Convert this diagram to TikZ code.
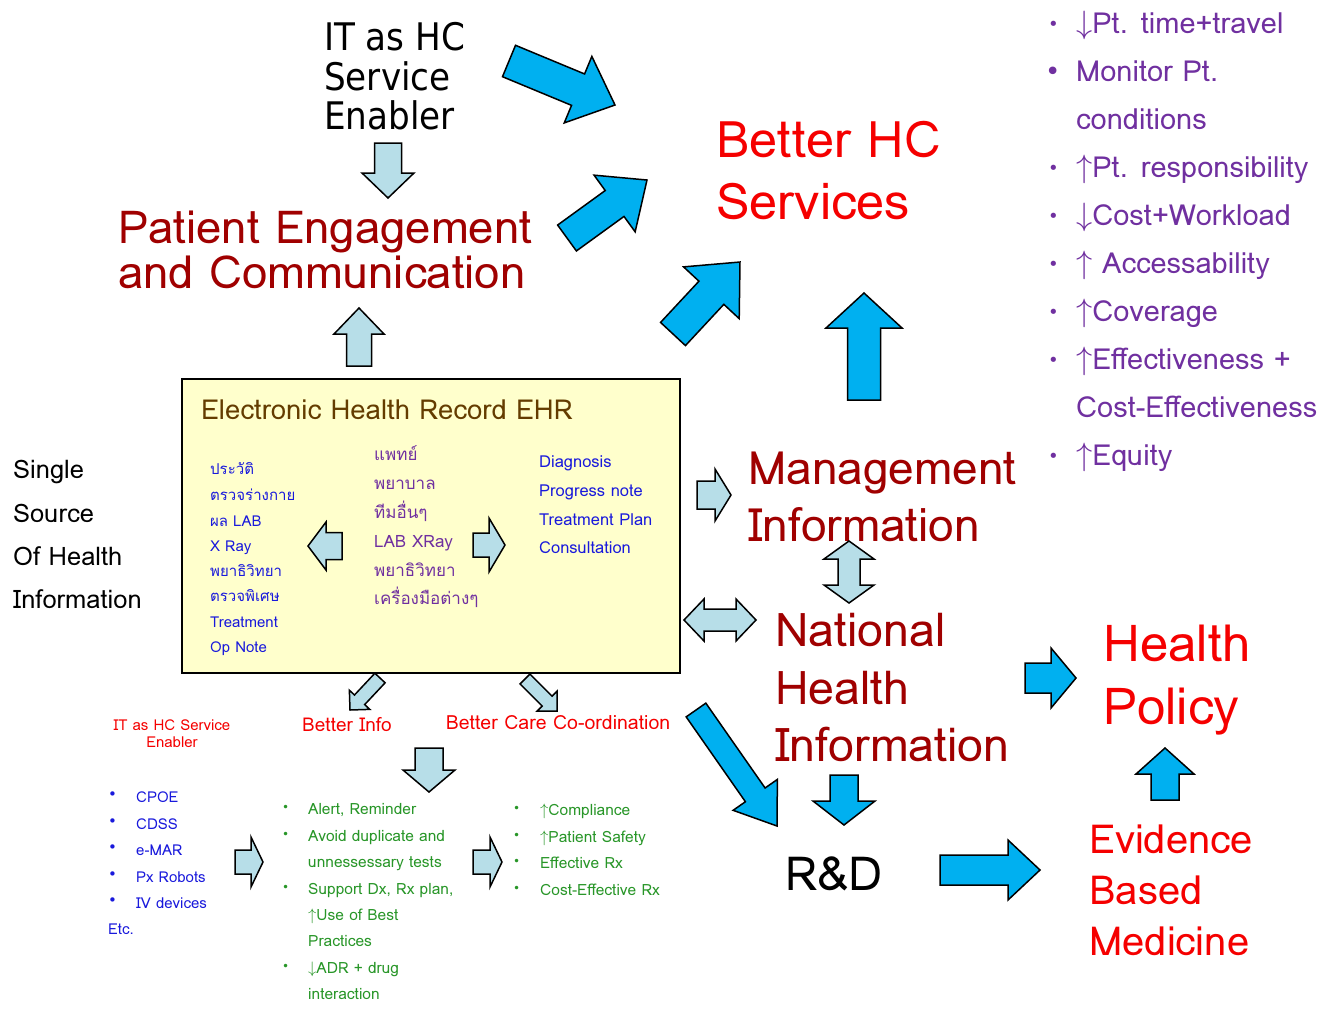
\documentclass[tikz,border=0pt]{standalone}
\usepackage{fontspec}
\setmainfont{Loma}
\newfontfamily\thai[Script=Thai]{Loma}
\newfontfamily\dv{DejaVu Sans}
\newfontfamily\dvc{DejaVu Sans Condensed}
\definecolor{dred}{RGB}{160,0,0}
\definecolor{bred}{RGB}{245,0,0}
\definecolor{purp}{RGB}{112,48,160}
\definecolor{eblue}{RGB}{25,25,220}
\definecolor{egreen}{RGB}{40,150,40}
\definecolor{brn}{RGB}{100,60,0}
\definecolor{lightA}{RGB}{183,222,232}
\definecolor{cyanA}{RGB}{0,176,240}
\definecolor{boxfill}{RGB}{255,255,204}
\newcommand\fs[1]{\fontsize{#1}{#1}\selectfont}
\newcommand\up[1]{\scalebox{#1}{$\uparrow$}}
\newcommand\dn[1]{\scalebox{#1}{$\downarrow$}}
\newcommand\barrow[8]{%
  \pgfmathsetmacro\baang{atan2((#3)-(#5),(#4)-(#2))}%
  \pgfmathsetmacro\balen{veclen((#4)-(#2),(#5)-(#3))}%
  \begin{scope}[shift={(#2,#3)},rotate=\baang]
    \draw[#1] (0,-#6/2) -- (\balen-#8,-#6/2) -- (\balen-#8,-#7/2) -- (\balen,0)
      -- (\balen-#8,#7/2) -- (\balen-#8,#6/2) -- (0,#6/2) -- cycle;
  \end{scope}}
\newcommand\dbarrow[8]{%
  \pgfmathsetmacro\baang{atan2((#3)-(#5),(#4)-(#2))}%
  \pgfmathsetmacro\balen{veclen((#4)-(#2),(#5)-(#3))}%
  \begin{scope}[shift={(#2,#3)},rotate=\baang]
    \draw[#1] (0,0) -- (#8,-#7/2) -- (#8,-#6/2) -- (\balen-#8,-#6/2) -- (\balen-#8,-#7/2) -- (\balen,0)
      -- (\balen-#8,#7/2) -- (\balen-#8,#6/2) -- (#8,#6/2) -- (#8,#7/2) -- cycle;
  \end{scope}}
\tikzset{
  barrowstyle/.style={draw=black, line width=1.5pt, fill=cyanA, line join=miter},
  larrowstyle/.style={draw=black, line width=1.5pt, fill=lightA, line join=miter},
  txt/.style={inner sep=0pt, anchor=base west},
}
\begin{document}
\begin{tikzpicture}[x=1pt,y=-1pt]
\useasboundingbox[fill=white] (0,0) rectangle (1327,1010);

% ---------- top left ----------
\node[txt,font=\dvc\fs{38}] (it1) at (324,50) {IT as HC};
\node[txt,font=\dvc\fs{38}] (it2) at (324,90) {Service};
\node[txt,font=\dvc\fs{38}] (it3) at (324,129) {Enabler};
\barrow{larrowstyle}{388}{143}{388}{198}{27}{52}{25}

\node[txt,font=\fs{45.5},text=dred] (pe1) at (118,243) {Patient Engagement};
\node[txt,font=\fs{45.5},text=dred] (pe2) at (118,288) {and Communication};
\barrow{larrowstyle}{359}{366}{359}{308}{25}{50}{26}

% ---------- blue arrows to Better HC ----------
\barrow{barrowstyle}{509}{61}{615}{105}{34}{72}{40}
\barrow{barrowstyle}{567}{238}{647}{180}{32}{70}{40}
\barrow{barrowstyle}{673}{334}{740}{262}{34}{76}{42}
\barrow{barrowstyle}{864}{400}{864}{293}{33}{76}{35}

\node[txt,font=\fs{50.5},text=bred] (bh1) at (716,157) {Better HC};
\node[txt,font=\fs{50.5},text=bred] (bh2) at (716,219) {Services};

% ---------- purple list ----------
\begin{scope}[font=\fs{29},text=purp]
\node[txt] (p1) at (1076,33) {\dn{1.3}Pt. time+travel};
\node[txt] (p2) at (1076,81) {Monitor Pt.};
\node[txt] (p3) at (1076,129) {conditions};
\node[txt] (p4) at (1076,177) {\up{1.3}Pt. responsibility};
\node[txt] (p5) at (1076,225) {\dn{1.3}Cost+Workload};
\node[txt] (p6) at (1076,273) {\up{1.3} Accessability};
\node[txt] (p7) at (1076,321) {\up{1.3}Coverage};
\node[txt] (p8) at (1076,369) {\up{1.3}Effectiveness +};
\node[txt] (p9) at (1076,417) {Cost-Effectiveness};
\node[txt] (p10) at (1076,465) {\up{1.3}Equity};
\foreach \yy in {33,177,225,273,321,369,465}
  \node[txt,font=\dv\fs{18}] at (1048,\yy-3) {•};
\node[txt,font=\dv\fs{26}] at (1045,80) {•};
\end{scope}

% ---------- EHR box ----------
\draw[line width=2pt, fill=boxfill] (182,379) rectangle (680,673);
\node[txt,font=\fs{27.5},text=brn] (ehr) at (201,419) {Electronic Health Record EHR};
\begin{scope}[font=\fs{15},text=eblue]
\node[txt] (l1) at (210,474) {\thai ประวัติ};
\node[txt] (l2) at (210,500) {\thai ตรวจร่างกาย};
\node[txt] (l3) at (210,526) {\thai ผล LAB};
\node[txt] (l4) at (210,551) {X Ray};
\node[txt] (l5) at (210,576) {\thai พยาธิวิทยา};
\node[txt] (l6) at (210,601) {\thai ตรวจพิเศษ};
\node[txt] (l7) at (210,627) {Treatment};
\node[txt] (l8) at (210,652) {Op Note};
\end{scope}
\begin{scope}[font=\fs{17},text=purp]
\node[txt] (m1) at (374,460) {\thai แพทย์};
\node[txt] (m2) at (374,489) {\thai พยาบาล};
\node[txt] (m3) at (374,518) {\thai ทีมอื่นๆ};
\node[txt] (m4) at (374,547) {LAB XRay};
\node[txt] (m5) at (374,576) {\thai พยาธิวิทยา};
\node[txt] (m6) at (374,604) {\thai เครื่องมือต่างๆ};
\end{scope}
\begin{scope}[font=\fs{16.5},text=eblue]
\node[txt] (r1) at (539,467) {Diagnosis};
\node[txt] (r2) at (539,496) {Progress note};
\node[txt] (r3) at (539,525) {Treatment Plan};
\node[txt] (r4) at (539,553) {Consultation};
\end{scope}
\barrow{larrowstyle}{342}{546}{308}{546}{27}{48}{18}
\barrow{larrowstyle}{473}{545}{505}{545}{24}{54}{16}

% ---------- Single source ----------
\begin{scope}[font=\fs{25.5}]
\node[txt] (s1) at (13,478) {Single};
\node[txt] (s2) at (13,522) {Source};
\node[txt] (s3) at (13,565) {Of Health};
\node[txt] (s4) at (13,608) {Information};
\end{scope}

% ---------- Management / National ----------
\barrow{larrowstyle}{697}{495}{731}{495}{28}{52}{16}
\node[txt,font=\fs{46},text=dred] (mi1) at (748,484) {Management};
\node[txt,font=\fs{46},text=dred] (mi2) at (748,541) {Information};
\dbarrow{larrowstyle}{849}{541}{849}{603}{22}{50}{18}
\dbarrow{larrowstyle}{684}{620}{756}{620}{22}{42}{20}
\node[txt,font=\fs{46.5},text=dred] (nh1) at (775,646) {National};
\node[txt,font=\fs{46.5},text=dred] (nh2) at (775,704) {Health};
\node[txt,font=\fs{46.5},text=dred] (nh3) at (775,761) {Information};

\barrow{barrowstyle}{1025}{678}{1076}{678}{30}{60}{25}
\node[txt,font=\fs{51},text=bred] (hp1) at (1103,661) {Health};
\node[txt,font=\fs{51},text=bred] (hp2) at (1103,724) {Policy};
\barrow{barrowstyle}{1165}{800}{1165}{748}{28}{58}{26}
\node[txt,font=\fs{40},text=bred] (eb1) at (1089,853) {Evidence};
\node[txt,font=\fs{40},text=bred] (eb2) at (1089,904) {Based};
\node[txt,font=\fs{40},text=bred] (eb3) at (1089,955) {Medicine};

\barrow{barrowstyle}{844}{775}{844}{825}{28}{62}{24}
\barrow{barrowstyle}{696}{710}{777}{826}{24}{54}{38}
\node[txt,font=\fs{47},text=black] (rd) at (785,890) {R\&D};
\barrow{barrowstyle}{940}{870}{1040}{870}{30}{60}{32}

% ---------- bottom left ----------
\barrow{larrowstyle}{380}{678}{350}{710}{14}{28}{14}
\barrow{larrowstyle}{525}{679}{557}{711}{14}{28}{14}
\node[inner sep=0pt,anchor=base,font=\fs{19},text=bred] (bi) at (347,731) {Better Info};
\node[inner sep=0pt,anchor=base,font=\fs{19.5},text=bred] (bc) at (558,729) {Better Care Co-ordination};
\node[inner sep=0pt,anchor=base,font=\fs{15},text=bred] (ith1) at (172,730) {IT as HC Service};
\node[inner sep=0pt,anchor=base,font=\fs{15},text=bred] (ith2) at (172,747) {Enabler};
\barrow{larrowstyle}{429}{748}{429}{792}{28}{52}{22}

\begin{scope}[font=\fs{15},text=eblue]
\node[txt] (b1) at (136,802) {CPOE};
\node[txt] (b2) at (136,829) {CDSS};
\node[txt] (b3) at (136,855) {e-MAR};
\node[txt] (b4) at (136,882) {Px Robots};
\node[txt] (b5) at (136,908) {IV devices};
\node[txt] (b6) at (108,934) {Etc.};
\foreach \yy in {802,829,855,882,908}
  \node[txt,font=\dv\fs{15}] at (108,\yy-3) {•};
\end{scope}
\barrow{larrowstyle}{235}{862}{263}{862}{24}{50}{12}
\begin{scope}[font=\fs{15.5},text=egreen]
\node[txt] (g1) at (308,814) {Alert, Reminder};
\node[txt] (g2) at (308,841) {Avoid duplicate and};
\node[txt] (g3) at (308,867) {unnessessary tests};
\node[txt] (g4) at (308,894) {Support Dx, Rx plan,};
\node[txt] (g5) at (308,920) {\up{1.15}Use of Best};
\node[txt] (g6) at (308,946) {Practices};
\node[txt] (g7) at (308,973) {\dn{1.15}ADR + drug};
\node[txt] (g8) at (308,999) {interaction};
\foreach \yy in {814,841,894,973}
  \node[txt,font=\dv\fs{12}] at (282,\yy-3) {•};
\end{scope}
\barrow{larrowstyle}{473}{862}{502}{862}{24}{50}{12}
\begin{scope}[font=\fs{15.5},text=egreen]
\node[txt] (c1) at (540,815) {\up{1.15}Compliance};
\node[txt] (c2) at (540,842) {\up{1.15}Patient Safety};
\node[txt] (c3) at (540,868) {Effective Rx};
\node[txt] (c4) at (540,895) {Cost-Effective Rx};
\foreach \yy in {815,842,868,895}
  \node[txt,font=\dv\fs{12}] at (513,\yy-3) {•};
\end{scope}
\end{tikzpicture}
\end{document}
